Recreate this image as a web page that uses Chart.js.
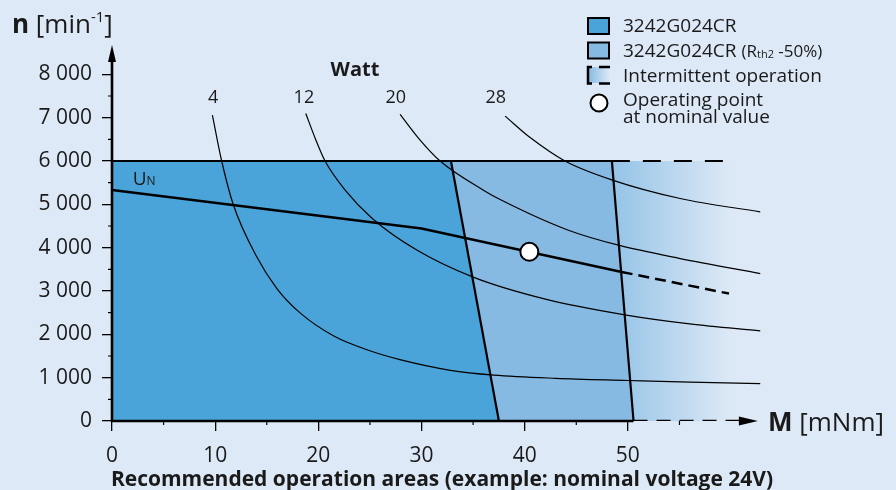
<!DOCTYPE html>
<html>
<head>
<meta charset="utf-8">
<script src="https://cdn.jsdelivr.net/npm/chart.js@4.4.1/dist/chart.umd.min.js"></script>
<style>
body{margin:0;background:#dde9f6;}
#box{width:896px;height:490px;}
</style>
</head>
<body>
<div id="box"><canvas id="grafico"></canvas></div>
<script>
// rotulos dos eixos
var mTicks = [0, 10, 20, 30, 40, 50];
var mTickLabels = ['0', '10', '20', '30', '40', '50'];
var nTicks = [0, 1000, 2000, 3000, 4000, 5000, 6000, 7000, 8000];
var nTickLabels = ['0', '1 000', '2 000', '3 000', '4 000', '5 000', '6 000', '7 000', '8 000'];

// areas de operacao (M em mNm, n em min-1)
var contM = [0, 32.85, 37.5];
var contN = [6000, 6000, 0];
var rthM = [32.85, 48.45, 50.55];
var rthN = [6000, 6000, 0];
var intermM = [48.45, 60];
var intermN = [6000, 6000];
var eixoTracoM = [50.55, 60.9];
var eixoTracoN = [0, 0];

// curva de tensao nominal U_N
var unM = [0, 30, 49.4];
var unN = [5330, 4440, 3440];
var unTracoM = [49.4, 59.8];
var unTracoN = [3440, 2940];

// ponto de operacao nominal
var opM = [40.45];
var opN = [3905];

// curvas de potencia (Watt)
var wattLabels = ['4', '12', '20', '28'];
var wattLabelM = [9.8, 18.6, 27.5, 37.2];
var watt4M = [9.73, 10.63, 11.76, 14.0, 16.0, 18.2, 21.5, 25.0, 28.0, 32.8, 37.0, 43.0, 50.0, 56.0, 62.83];
var watt4N = [7058, 6000, 4990, 3800, 3050, 2500, 1960, 1620, 1410, 1170, 1060, 985, 935, 895, 863];
var watt12M = [18.78, 19.7, 20.65, 22.6, 25.2, 29.5, 35.0, 42.2, 49.7, 56.0, 62.83];
var watt12N = [7098, 6520, 6000, 5330, 4680, 3950, 3320, 2800, 2450, 2240, 2078];
var watt20M = [27.92, 29.8, 31.8, 36.0, 37.62, 44.24, 49.09, 55.07, 62.83];
var watt20N = [7074, 6500, 6000, 5327, 5112, 4403, 4057, 3749, 3403];
var watt28M = [38.1, 40.53, 43.9, 48.5, 55.07, 62.83];
var watt28N = [7035, 6540, 6000, 5560, 5135, 4826];

var FONTE = '"Open Sans", "Noto Sans", sans-serif';
var FUNDO = '#dde9f6';
var AZUL = '#4aa4d9';
var AZUL_CLARO = '#86bae2';

function pts(xs, ys) {
    return xs.map(function (x, i) { return { x: x, y: ys[i] }; });
}

function linha(xs, ys, extra) {
    return Object.assign({
        data: pts(xs, ys),
        borderColor: '#000',
        borderWidth: 2,
        pointRadius: 0,
        fill: false
    }, extra || {});
}

function gradiente(context) {
    var chart = context.chart;
    if (!chart.chartArea) return 'rgba(0,0,0,0)';
    var x0 = chart.scales.x.getPixelForValue(intermM[0]);
    var x1 = chart.scales.x.getPixelForValue(intermM[1]);
    var g = chart.ctx.createLinearGradient(x0, 0, x1, 0);
    g.addColorStop(0, '#94c3e7');
    g.addColorStop(1, FUNDO);
    return g;
}

function curva(xs, ys) {
    return linha(xs, ys, { borderWidth: 1.2, cubicInterpolationMode: 'monotone' });
}

// texto com partes em fontes diferentes
function textoRico(ctx, x, y, partes) {
    ctx.textAlign = 'left';
    partes.forEach(function (p) {
        ctx.font = p[1] + ' ' + FONTE;
        ctx.fillText(p[0], x, y + (p[2] || 0));
        x += ctx.measureText(p[0]).width;
    });
}

var decor = {
    id: 'decor',
    afterDatasetsDraw: function (chart) {
        var ctx = chart.ctx;
        var xs = chart.scales.x, ys = chart.scales.y;
        var x0 = xs.getPixelForValue(0), y0 = ys.getPixelForValue(0);
        var top = chart.chartArea.top;
        ctx.save();
        ctx.strokeStyle = '#000';
        ctx.fillStyle = '#000';

        // eixos
        ctx.lineWidth = 2.6;
        ctx.beginPath();
        ctx.moveTo(x0, y0 + 1);
        ctx.lineTo(x0, top + 15);
        ctx.moveTo(x0 - 1, y0);
        ctx.lineTo(xs.getPixelForValue(rthM[2]), y0);
        ctx.stroke();
        ctx.beginPath();
        ctx.moveTo(x0, top + 1);
        ctx.lineTo(x0 - 4, top + 18);
        ctx.lineTo(x0 + 4, top + 18);
        ctx.closePath();
        ctx.fill();
        var ax = xs.getPixelForValue(62.6);
        ctx.beginPath();
        ctx.moveTo(ax, y0);
        ctx.lineTo(ax - 19, y0 - 4.5);
        ctx.lineTo(ax - 19, y0 + 4.5);
        ctx.closePath();
        ctx.fill();

        // marcas menores
        ctx.lineWidth = 1.2;
        ctx.beginPath();
        for (var n = 500; n < 8000; n += 1000) {
            var py = ys.getPixelForValue(n);
            ctx.moveTo(x0 - 4, py);
            ctx.lineTo(x0, py);
        }
        for (var m = 5; m < 60; m += 10) {
            var px = xs.getPixelForValue(m);
            ctx.moveTo(px, y0);
            ctx.lineTo(px, y0 + 4);
        }
        ctx.stroke();

        ctx.fillStyle = '#1a1a1a';
        ctx.textBaseline = 'alphabetic';
        // titulos dos eixos
        textoRico(ctx, 12, 33, [['n', 'bold 26px'], [' [min', '26px'], ['-1', '15px', -11], [']', '26px']]);
        textoRico(ctx, 768, 431, [['M', 'bold 26px'], [' [mNm]', '26px']]);

        // U_N
        textoRico(ctx, xs.getPixelForValue(2), ys.getPixelForValue(5440), [['U', '19px'], ['N', '12px']]);

        // rotulos Watt
        ctx.textAlign = 'center';
        ctx.textBaseline = 'middle';
        ctx.font = 'bold 20px ' + FONTE;
        ctx.fillText('Watt', xs.getPixelForValue(23.55), ys.getPixelForValue(8090));
        ctx.font = '18px ' + FONTE;
        wattLabels.forEach(function (t, i) {
            ctx.fillText(t, xs.getPixelForValue(wattLabelM[i]), ys.getPixelForValue(7450));
        });

        // legenda inferior
        ctx.font = 'bold 21px ' + FONTE;
        ctx.textBaseline = 'alphabetic';
        ctx.fillText('Recommended operation areas (example: nominal voltage 24V)', 442, 486);

        // legenda
        ctx.lineWidth = 2;
        ctx.strokeStyle = '#000';
        ctx.fillStyle = AZUL;
        ctx.fillRect(588, 18, 21, 16);
        ctx.strokeRect(588, 18, 21, 16);
        ctx.fillStyle = AZUL_CLARO;
        ctx.fillRect(588, 42.5, 21, 16);
        ctx.strokeRect(588, 42.5, 21, 16);
        var g = ctx.createLinearGradient(588, 0, 610, 0);
        g.addColorStop(0, '#86bae2');
        g.addColorStop(1, FUNDO);
        ctx.fillStyle = g;
        ctx.fillRect(588, 67, 22, 16);
        ctx.lineWidth = 2.5;
        ctx.beginPath();
        ctx.moveTo(592, 67); ctx.lineTo(588, 67); ctx.lineTo(588, 83.5); ctx.lineTo(592, 83.5);
        ctx.moveTo(599, 67); ctx.lineTo(610, 67);
        ctx.moveTo(599, 83.5); ctx.lineTo(610, 83.5);
        ctx.stroke();
        ctx.lineWidth = 2;
        ctx.fillStyle = '#fff';
        ctx.beginPath();
        ctx.arc(599, 103, 8.5, 0, Math.PI * 2);
        ctx.fill();
        ctx.stroke();

        ctx.fillStyle = '#1a1a1a';
        ctx.font = '19px ' + FONTE;
        ctx.textAlign = 'left';
        ctx.textBaseline = 'middle';
        ctx.fillText('3242G024CR', 623, 27);
        textoRico(ctx, 623, 52, [['3242G024CR ', '19px'], ['(R', '17px'], ['th2', '11px', 3], [' -50%)', '17px']]);
        ctx.font = '19px ' + FONTE;
        ctx.fillText('Intermittent operation', 623, 77);
        ctx.fillText('Operating point', 623, 101);
        ctx.fillText('at nominal value', 623, 118);
        ctx.restore();
    }
};

//dados para o grafico
var data = {
    datasets: [
        { data: pts(opM, opN), showLine: false, pointRadius: 9, pointBackgroundColor: '#fff', pointBorderColor: '#000', pointBorderWidth: 2 },
        linha(unM, unN, { borderWidth: 2.5 }),
        linha(unTracoM, unTracoN, { borderWidth: 2.5, borderDash: [11, 6] }),
        curva(watt4M, watt4N),
        curva(watt12M, watt12N),
        curva(watt20M, watt20N),
        curva(watt28M, watt28N),
        linha([0, intermM[0]], [6000, 6000], { borderWidth: 2 }),
        linha(intermM, intermN, { borderWidth: 2, borderDash: [18, 13] }),
        linha([contM[1], contM[2]], [contN[1], contN[2]], { borderWidth: 2.2 }),
        linha([rthM[1], rthM[2]], [rthN[1], rthN[2]], { borderWidth: 2.2 }),
        linha(eixoTracoM, eixoTracoN, { borderWidth: 2.4, borderDash: [14, 9] }),
        linha(contM, contN, { borderWidth: 0, fill: 'origin', backgroundColor: AZUL }),
        linha(rthM, rthN, { borderWidth: 0, fill: 'origin', backgroundColor: AZUL_CLARO }),
        linha(intermM, intermN, { borderWidth: 0, fill: 'origin', backgroundColor: gradiente })
    ]
};

//configuracoes do grafico
var options = {
    responsive: true,
    maintainAspectRatio: false,
    animation: false,
    events: [],
    layout: { padding: { top: 44, right: 134, left: 0, bottom: 0 } },
    plugins: { legend: { display: false }, tooltip: { enabled: false } },
    scales: {
        x: {
            type: 'linear',
            min: 0,
            max: 63,
            afterFit: function (s) { s.height = 69; },
            afterBuildTicks: function (s) { s.ticks = mTicks.map(function (v) { return { value: v }; }); },
            ticks: {
                callback: function (v, i) { return mTickLabels[i]; },
                font: { family: FONTE, size: 21 },
                color: '#1a1a1a',
                padding: 12,
                maxRotation: 0,
                autoSkip: false
            },
            grid: { drawOnChartArea: false, tickLength: 10, color: '#000', lineWidth: 1.3 },
            border: { display: false }
        },
        y: {
            min: 0,
            max: 8700,
            afterFit: function (s) { s.width = 112; },
            afterBuildTicks: function (s) { s.ticks = nTicks.map(function (v) { return { value: v }; }); },
            ticks: {
                callback: function (v, i) { return nTickLabels[i]; },
                font: { family: FONTE, size: 21 },
                color: '#1a1a1a',
                padding: 10,
                autoSkip: false
            },
            grid: { drawOnChartArea: false, tickLength: 10, color: '#000', lineWidth: 1.3 },
            border: { display: false }
        }
    }
};

//criar o grafico
var ctx = document.querySelector('#grafico').getContext('2d');
var grafico = new Chart(ctx, {
    type: 'line',
    data: data,
    options: options,
    plugins: [decor]
});
</script>
</body>
</html>
